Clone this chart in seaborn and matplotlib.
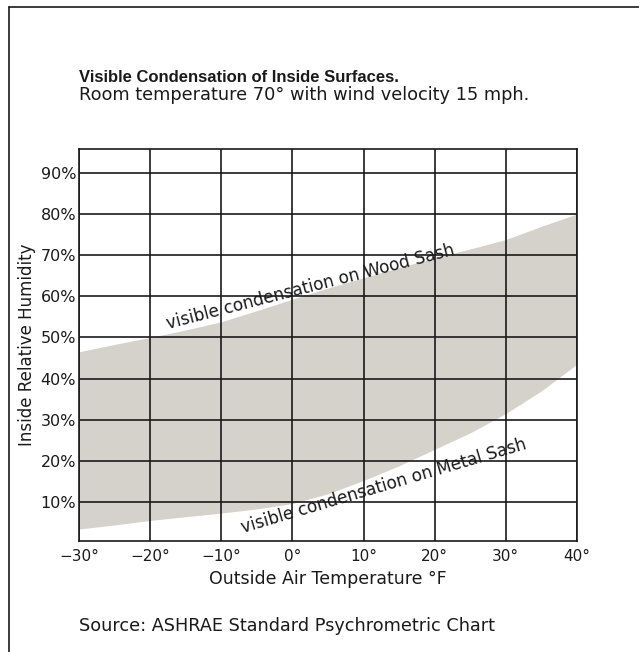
import matplotlib
matplotlib.use("Agg")
import matplotlib.pyplot as plt
from matplotlib.lines import Line2D
import seaborn as sns
import pandas as pd

# Outside air temperature (°F) and the humidity limits at which condensation becomes visible
temperature_f = [-30, -25, -20, -15, -10, -5, 0, 5, 10, 15, 20, 25, 30, 35, 40]
wood_sash_rh = [46.5, 48.3, 50.0, 51.8, 53.8, 56.5, 59.3, 62.0, 64.5, 67.0, 69.3, 71.5, 73.8, 77.0, 80.0]
metal_sash_rh = [3.4, 4.4, 5.5, 6.4, 7.3, 8.3, 9.6, 12.0, 15.2, 18.8, 22.8, 26.8, 31.5, 37.0, 43.5]

x_ticks = [-30, -20, -10, 0, 10, 20, 30, 40]
x_tick_labels = ["\u221230\u00b0", "\u221220\u00b0", "\u221210\u00b0", "0\u00b0",
                 "10\u00b0", "20\u00b0", "30\u00b0", "40\u00b0"]
y_ticks = [10, 20, 30, 40, 50, 60, 70, 80, 90]
y_tick_labels = [f"{v}%" for v in y_ticks]

title = "Visible Condensation of Inside Surfaces."
subtitle = "Room temperature 70\u00b0 with wind velocity 15 mph."
source = "Source: ASHRAE Standard Psychrometric Chart"

df = pd.DataFrame({"temp": temperature_f, "wood": wood_sash_rh, "metal": metal_sash_rh})

sns.set_theme(style="white")
plt.rcParams["font.family"] = ["DejaVu Sans"]
ink = "#1a1a1a"
band = "#d5d2cb"

fig = plt.figure(figsize=(6.39, 6.52), dpi=100)
ax = fig.add_axes([79 / 639, 111 / 652, 498 / 639, 392 / 652])

# Boundaries of the condensation band (invisible lines) and the shaded band between them
sns.lineplot(data=df, x="temp", y="wood", ax=ax, color=band, linewidth=0)
sns.lineplot(data=df, x="temp", y="metal", ax=ax, color=band, linewidth=0)
ax.fill_between(df["temp"], df["metal"], df["wood"], color=band, linewidth=0, zorder=1)

ax.set_xlim(-30, 40)
ax.set_ylim(0.5, 95.8)
ax.set_xticks(x_ticks)
ax.set_xticklabels(x_tick_labels, fontsize=11, color=ink)
ax.set_yticks(y_ticks)
ax.set_yticklabels(y_tick_labels, fontsize=11.5, color=ink)
ax.tick_params(axis="x", length=0, pad=6)
ax.tick_params(axis="y", length=0, pad=2)

ax.grid(True, color=ink, linewidth=1.2)
ax.set_axisbelow(False)
for sp in ax.spines.values():
    sp.set_visible(True)
    sp.set_color(ink)
    sp.set_linewidth(1.2)

ax.set_xlabel("Outside Air Temperature \u00b0F", fontsize=12.5, color=ink, labelpad=4)
ax.set_ylabel("Inside Relative Humidity", fontsize=12, color=ink, labelpad=3)

# Curve annotations along the band edges
ax.text(2.5, 62.3, "visible condensation on Wood Sash", rotation=14.5,
        ha="center", va="center", fontsize=12.2, color=ink, zorder=5)
ax.text(12.8, 13.9, "visible condensation on Metal Sash", rotation=16.5,
        ha="center", va="center", fontsize=12.2, color=ink, zorder=5)

fig.text(79 / 639, 1 - 77 / 652, title, fontsize=12, fontweight="bold", color=ink,
         family=["Liberation Sans", "DejaVu Sans"], ha="left", va="center")
fig.text(79 / 639, 1 - 95 / 652, subtitle, fontsize=12.8, color=ink, ha="left", va="center")
fig.text(79 / 639, 1 - 626 / 652, source, fontsize=12.7, color=ink, ha="left", va="center")

# Page frame: top rule and left rule
fig.add_artist(Line2D([9 / 639, 1.0], [1 - 7 / 652, 1 - 7 / 652], transform=fig.transFigure,
                      color=ink, linewidth=1.2))
fig.add_artist(Line2D([9 / 639, 9 / 639], [0.0, 1 - 7 / 652], transform=fig.transFigure,
                      color=ink, linewidth=1.2))

fig.savefig("out.png", dpi=100, facecolor="white")
